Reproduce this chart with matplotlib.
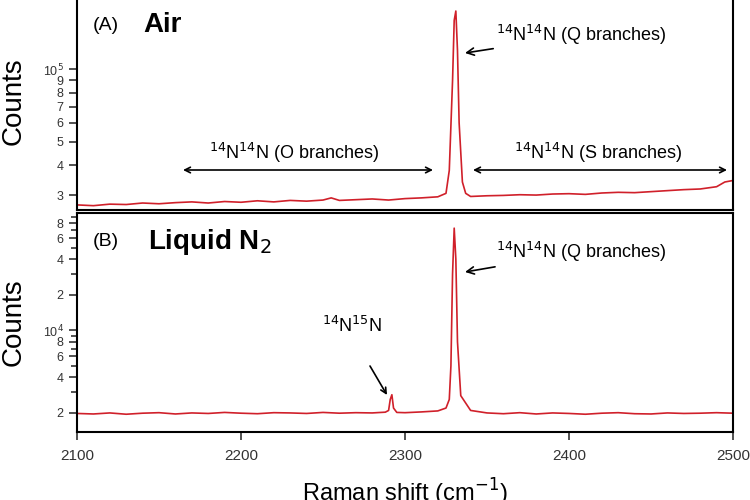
import matplotlib
matplotlib.use("Agg")
import matplotlib.pyplot as plt
from matplotlib.ticker import FixedLocator, FixedFormatter, NullFormatter

plt.rcParams['font.family'] = ['Liberation Sans', 'DejaVu Sans']

# Air spectrum (Raman shift, counts)
air_x = [2100,2110,2120,2130,2140,2150,2160,2170,2180,2190,2200,2210,2220,2230,2240,2250,2255,2260,2270,2280,2290,2300,2310,2320,2325,2327,2329,2330,2331,2332,2333,2335,2337,2340,2350,2360,2370,2380,2390,2400,2410,2420,2430,2440,2450,2460,2470,2480,2490,2495,2500]
air_y = [27300,27100,27500,27400,27800,27600,27900,28100,27800,28200,28000,28400,28100,28500,28300,28600,29200,28500,28700,28900,28600,29000,29200,29500,30500,38000,90000,160000,175000,120000,60000,34000,30500,29600,29800,29900,30100,30000,30300,30400,30200,30600,30800,30700,31000,31300,31600,31800,32500,34000,34500]

# Liquid N2 spectrum
liq_x = [2100,2110,2120,2130,2140,2150,2160,2170,2180,2190,2200,2210,2220,2230,2240,2250,2260,2270,2280,2288,2290,2291,2292,2293,2295,2300,2310,2320,2325,2327,2328,2329,2330,2331,2332,2334,2340,2350,2360,2370,2380,2390,2400,2410,2420,2430,2440,2450,2460,2470,2480,2490,2500]
liq_y = [1980,1960,2000,1950,1990,2010,1960,2000,1980,2020,1990,1970,2010,2000,1980,2020,1990,2010,2000,2030,2100,2600,2850,2200,2020,2010,2040,2080,2200,2600,5000,30000,73000,40000,8000,2800,2100,2000,1970,2010,1960,2000,1980,1950,1990,2010,1970,1960,2000,1980,1990,2010,1990]

xticks = [2100, 2200, 2300, 2400, 2500]
red = '#d0202a'

fig = plt.figure(figsize=(7.5, 5), dpi=100)
W, H = 750, 500
def rect(x0, y0, x1, y1):
    return [x0 / W, 1 - y1 / H, (x1 - x0) / W, (y1 - y0) / H]

ax1 = fig.add_axes(rect(77, -8, 733, 210))
ax2 = fig.add_axes(rect(77, 213, 733, 432))

for ax in (ax1, ax2):
    ax.set_yscale('log')
    ax.set_xlim(2100, 2500)
    for s in ax.spines.values():
        s.set_linewidth(1.5)
    ax.tick_params(axis='y', which='both', direction='out', labelsize=9, colors='#333333', width=1.2)
    ax.tick_params(axis='y', which='major', length=6)
    ax.tick_params(axis='y', which='minor', length=4)
    ax.set_ylabel('Counts', fontsize=20)
    ax.yaxis.set_label_coords(-0.077, 0.5)

ax1.plot(air_x, air_y, color=red, lw=1.2)
ax1.set_ylim(26000, 210000)
maj1 = [30000, 40000, 50000, 60000, 70000, 80000, 90000, 100000]
ax1.yaxis.set_major_locator(FixedLocator(maj1))
ax1.yaxis.set_major_formatter(FixedFormatter(['3', '4', '5', '6', '7', '8', '9', r'10$^5$']))
ax1.yaxis.set_minor_locator(FixedLocator([]))
ax1.set_xticks(xticks)
ax1.tick_params(axis='x', labelbottom=False, length=0)

ax2.plot(liq_x, liq_y, color=red, lw=1.2)
ax2.set_ylim(1380, 98000)
maj2 = [2000, 4000, 6000, 8000, 10000, 20000, 40000, 60000, 80000]
ax2.yaxis.set_major_locator(FixedLocator(maj2))
ax2.yaxis.set_major_formatter(FixedFormatter(['2', '4', '6', '8', r'10$^4$', '2', '4', '6', '8']))
ax2.yaxis.set_minor_locator(FixedLocator([3000, 5000, 7000, 9000, 30000, 50000, 70000, 90000]))
ax2.yaxis.set_minor_formatter(NullFormatter())
ax2.set_xticks(xticks)
ax2.tick_params(axis='x', direction='out', length=6, width=1.2, labelsize=11, colors='#333333', pad=6)
ax2.set_xlabel('Raman shift (cm$^{-1}$)', fontsize=17, labelpad=10)

def fx(px): return (px - 77) / 656
def fy1(py): return (210 - py) / 218
def fy2(py): return (432 - py) / 219

# Top panel annotations
ax1.text(fx(93), fy1(25), '(A)', transform=ax1.transAxes, fontsize=14, va='center')
ax1.text(fx(143), fy1(25), 'Air', transform=ax1.transAxes, fontsize=20, weight='bold', va='center')
ax1.annotate('$^{14}$N$^{14}$N (Q branches)', xy=(fx(465), fy1(53)), xytext=(fx(496), fy1(35)),
             xycoords='axes fraction', textcoords='axes fraction', fontsize=13, va='center',
             arrowprops=dict(arrowstyle='->', lw=1.2, color='black', shrinkA=0, shrinkB=0))
ax1.annotate('', xy=(fx(183), fy1(170)), xytext=(fx(433), fy1(170)), xycoords='axes fraction',
             arrowprops=dict(arrowstyle='<->', lw=1.2, color='black', shrinkA=0, shrinkB=0))
ax1.annotate('', xy=(fx(473), fy1(170)), xytext=(fx(727), fy1(170)), xycoords='axes fraction',
             arrowprops=dict(arrowstyle='<->', lw=1.2, color='black', shrinkA=0, shrinkB=0))
ax1.text(fx(294), fy1(153), '$^{14}$N$^{14}$N (O branches)', transform=ax1.transAxes, fontsize=13, ha='center', va='center')
ax1.text(fx(598), fy1(153), '$^{14}$N$^{14}$N (S branches)', transform=ax1.transAxes, fontsize=13, ha='center', va='center')

# Bottom panel annotations
ax2.text(fx(93), fy2(242), '(B)', transform=ax2.transAxes, fontsize=14, va='center')
ax2.text(fx(148), fy2(242), 'Liquid N$_2$', transform=ax2.transAxes, fontsize=20, weight='bold', va='center')
ax2.annotate('$^{14}$N$^{14}$N (Q branches)', xy=(fx(465), fy2(272)), xytext=(fx(496), fy2(252)),
             xycoords='axes fraction', textcoords='axes fraction', fontsize=13, va='center',
             arrowprops=dict(arrowstyle='->', lw=1.2, color='black', shrinkA=0, shrinkB=0))
ax2.text(fx(352), fy2(326), '$^{14}$N$^{15}$N', transform=ax2.transAxes, fontsize=13, ha='center', va='center')
ax2.annotate('', xy=(fx(387), fy2(395)), xytext=(fx(370), fy2(366)), xycoords='axes fraction',
             arrowprops=dict(arrowstyle='->', lw=1.2, color='black', shrinkA=0, shrinkB=0))

fig.savefig('out.png', dpi=100)
